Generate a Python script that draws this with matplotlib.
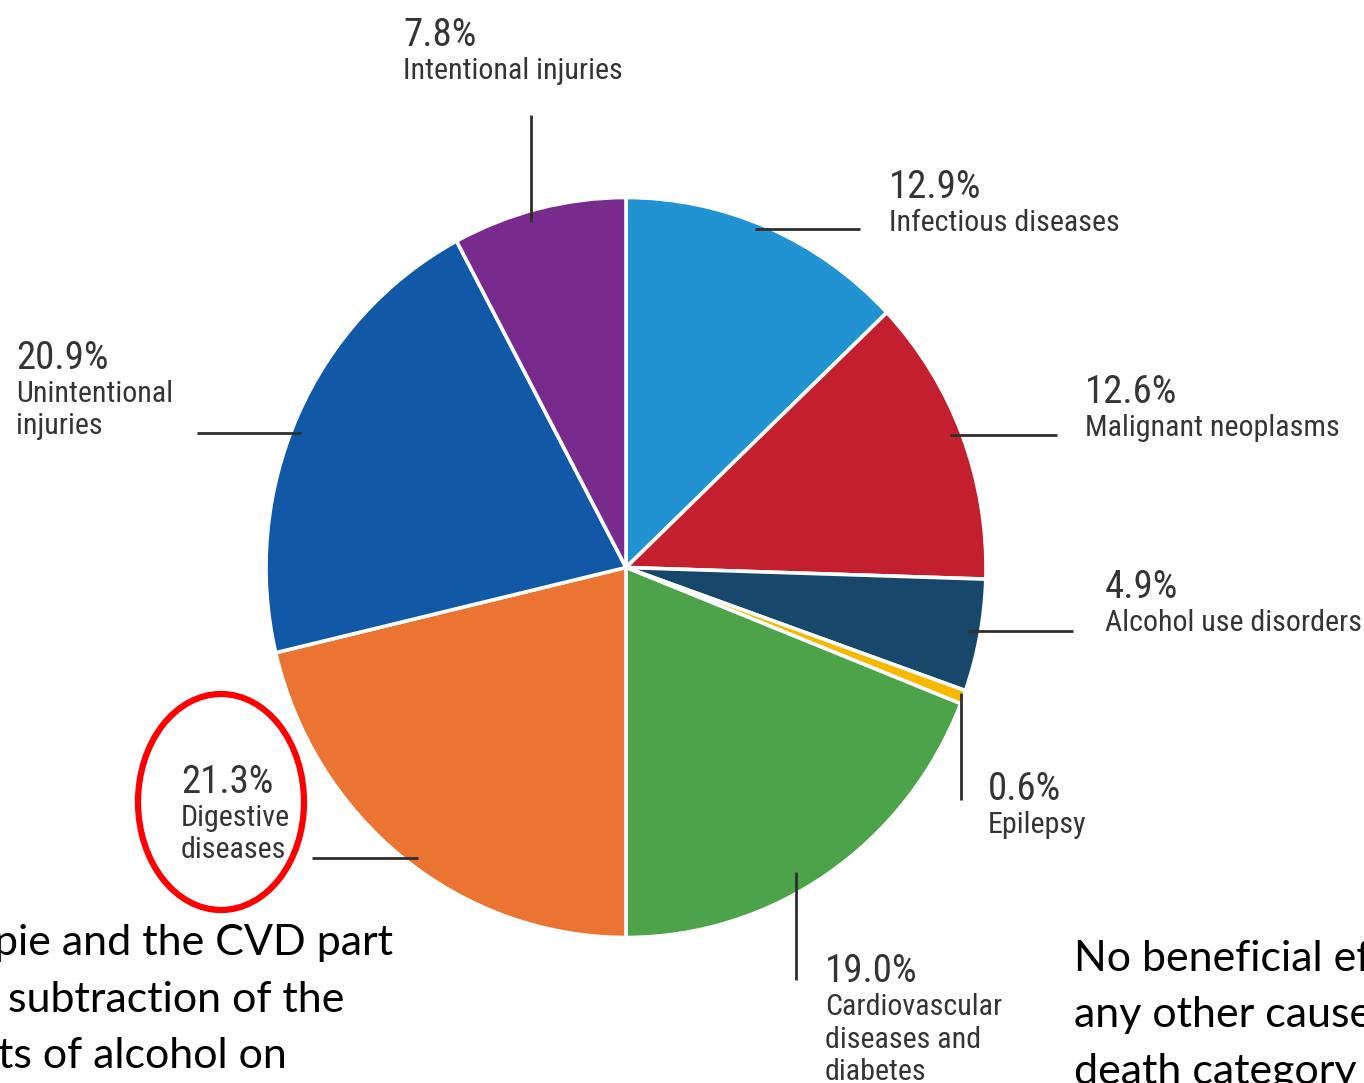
import matplotlib
matplotlib.use("Agg")
import matplotlib.pyplot as plt
from matplotlib import font_manager as fm
from matplotlib.patches import Ellipse

W, H = 1364, 1083

# share of alcohol-attributable deaths by cause (%), clockwise from 12 o'clock
causes = [
    ["Infectious diseases"],
    ["Malignant neoplasms"],
    ["Alcohol use disorders"],
    ["Epilepsy"],
    ["Cardiovascular", "diseases and", "diabetes"],
    ["Digestive", "diseases"],
    ["Unintentional", "injuries"],
    ["Intentional injuries"],
]
shares = [12.9, 12.6, 4.9, 0.6, 19.0, 21.3, 20.9, 7.8]
colors = ["#2193d2", "#c41f2f", "#17476b", "#f8b800",
          "#4da34a", "#ec7433", "#1159a7", "#782b8c"]

# label anchor (left x, baseline of the percent line) and leader line, in pixels
label_pos = [(889, 198), (1085, 403), (1105, 598), (988, 800),
             (825, 982), (181, 793), (16, 369), (403, 46)]
leaders = [((755, 860), (229, 229)), ((950, 1057), (435, 435)),
           ((968, 1073), (631, 631)), ((961, 961), (693, 800)),
           ((796, 796), (872, 980)), ((312, 418), (858, 858)),
           ((197, 301), (433, 433)), ((531, 531), (115, 222))]

left_note = ["pie and the CVD part", "subtraction of the", "ts of alcohol on"]
right_note = ["No beneficial effect", "any other cause", "death category"]


def narrow_font():
    # prefer a condensed face for the callout labels
    entries = fm.fontManager.ttflist
    for want in ["Liberation Sans Narrow", "Roboto Condensed", "Open Sans Condensed"]:
        if any(f.name == want for f in entries):
            return dict(family=want)
    for f in entries:
        if f.name == "DejaVu Sans" and "condensed" in str(f.stretch) and f.weight in (400, "normal"):
            return dict(family="DejaVu Sans", stretch="condensed")
    return dict(family="DejaVu Sans")


label_font = narrow_font()
note_font = ["Lato", "DejaVu Sans"]
txt_col = "#343434"

fig = plt.figure(figsize=(W / 100, H / 100), dpi=100)
renderer = fig.canvas.get_renderer()


def fit_size(s, target_w, base=24, **kw):
    t = fig.text(0, 0, s, fontsize=base, **label_font, **kw)
    w = t.get_window_extent(renderer).width
    t.remove()
    return base * target_w / w


name_size = min(24, fit_size("Unintentional", 157))
pct_size = min(28, fit_size("20.9%", 96))

# pie axes: unit radius = 360 px across, 370 px down
cx, cy, rx, ry = 626, 567.5, 360, 370
ax = fig.add_axes([0, 0, 1, 1])
ax.pie(shares, colors=colors, startangle=90, counterclock=False,
       radius=1, wedgeprops=dict(edgecolor="white", linewidth=2.6))
ax.set_aspect("auto")
ax.set_xlim(-cx / rx, (W - cx) / rx)
ax.set_ylim(-(H - cy) / ry, cy / ry)
ax.axis("off")

# overlay in pixel coordinates for labels and annotations
ov = fig.add_axes([0, 0, 1, 1])
ov.set_xlim(0, W)
ov.set_ylim(H, 0)
ov.axis("off")
ov.patch.set_alpha(0)

for name, share, (lx, ly), (xs, ys) in zip(causes, shares, label_pos, leaders):
    ov.plot(xs, ys, color="#2e2e2e", lw=2.0, solid_capstyle="butt")
    ov.text(lx, ly, f"{share:.1f}%", fontsize=pct_size, color=txt_col,
            va="baseline", ha="left", **label_font)
    for i, line in enumerate(name):
        ov.text(lx, ly + 33 + 32.5 * i, line, fontsize=name_size, color=txt_col,
                va="baseline", ha="left", **label_font)

ov.add_patch(Ellipse((221, 802), 166, 216, fill=False, edgecolor="#ff0000", lw=4.5))

for i, line in enumerate(left_note):
    x0 = [-6, 8, -2][i]
    ov.text(x0, 955 + 56.5 * i, line, fontsize=31, family=note_font,
            color="black", va="baseline", ha="left")
for i, line in enumerate(right_note):
    ov.text(1074, 971 + 56.5 * i, line, fontsize=31, family=note_font,
            color="black", va="baseline", ha="left")

fig.savefig("out.png", dpi=100)
